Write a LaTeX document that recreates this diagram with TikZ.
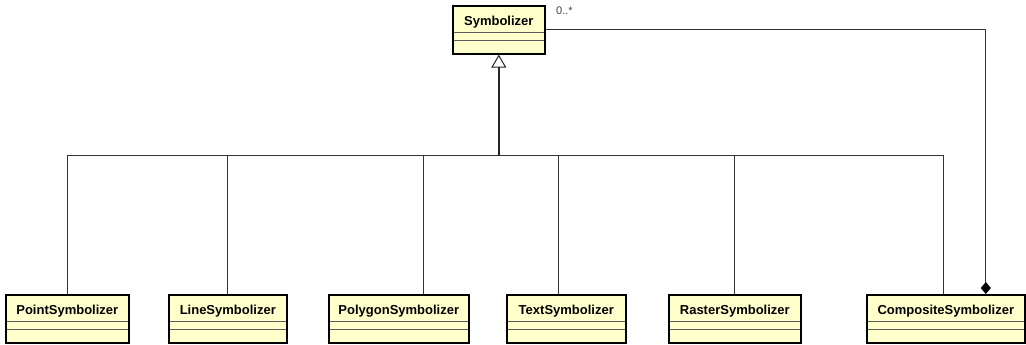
\documentclass[tikz,border=0pt]{standalone}
\usepackage{fontspec}
\setmainfont{Liberation Sans}
\usetikzlibrary{arrows.meta,positioning}
\definecolor{classfill}{RGB}{255,255,204}
\definecolor{sepgray}{RGB}{90,90,90}

\begin{document}
\begin{tikzpicture}
  [x=1pt,y=-1pt,>=Stealth,
  class node/.style={draw,line width=1.6pt,fill=classfill,anchor=north west,
    inner xsep=0pt,inner ysep=0pt,text height=20pt,text depth=28pt,
    font=\fontsize{13}{15}\selectfont\bfseries,
    path picture={
      \draw[sepgray,line width=1.2pt] ([yshift=-27pt]path picture bounding box.north west) -- ([yshift=-27pt]path picture bounding box.north east);
      \draw[sepgray,line width=1.2pt] ([yshift=-35pt]path picture bounding box.north west) -- ([yshift=-35pt]path picture bounding box.north east);}},
  link/.style={draw,line width=0.8pt,black!80}]
  \useasboundingbox (0,0) rectangle (1026,345);

  \node[class node,minimum width=92] (sym) at (452,5) {Symbolizer};
  \node[class node,minimum width=123] (point) at (5,294) {PointSymbolizer};
  \node[class node,minimum width=118] (line) at (168,294) {LineSymbolizer};
  \node[class node,minimum width=140] (poly) at (328,294) {PolygonSymbolizer};
  \node[class node,minimum width=119] (txt) at (506,294) {TextSymbolizer};
  \node[class node,minimum width=132] (raster) at (668,294) {RasterSymbolizer};
  \node[class node,minimum width=158] (comp) at (866,294) {CompositeSymbolizer};
  \coordinate (bus) at (sym.south |- 0,155);
  \node[anchor=west,font=\fontsize{11}{13}\selectfont,black!75] (mult) at ([xshift=7pt,yshift=-6pt]sym.north east) {0..*};

  % generalisation
  \draw[line width=1.6pt,black!85,-{Triangle[open,length=13pt,width=15pt,line width=1pt]}] (bus) -- (sym.south);
  \draw[link] (bus -| point.north) -- ([xshift=-2pt]bus -| comp.north);
  \draw[link] (bus -| point.north) -- (point.north);
  \draw[link] (bus -| line.north) -- (line.north);
  \draw[link] (bus -| poly.north) ++(25,0) -- ([xshift=25pt]poly.north);
  \draw[link] (bus -| txt.north) ++(-8,0) -- ([xshift=-8pt]txt.north);
  \draw[link] (bus -| raster.north) -- (raster.north);
  \draw[link] (bus -| comp.north) ++(-2,0) -- ([xshift=-2pt]comp.north);

  % composition
  \draw[link,-{Diamond[length=12pt,width=10pt,black]}] (sym.east) -| ([xshift=40pt]comp.north);
\end{tikzpicture}
\end{document}
